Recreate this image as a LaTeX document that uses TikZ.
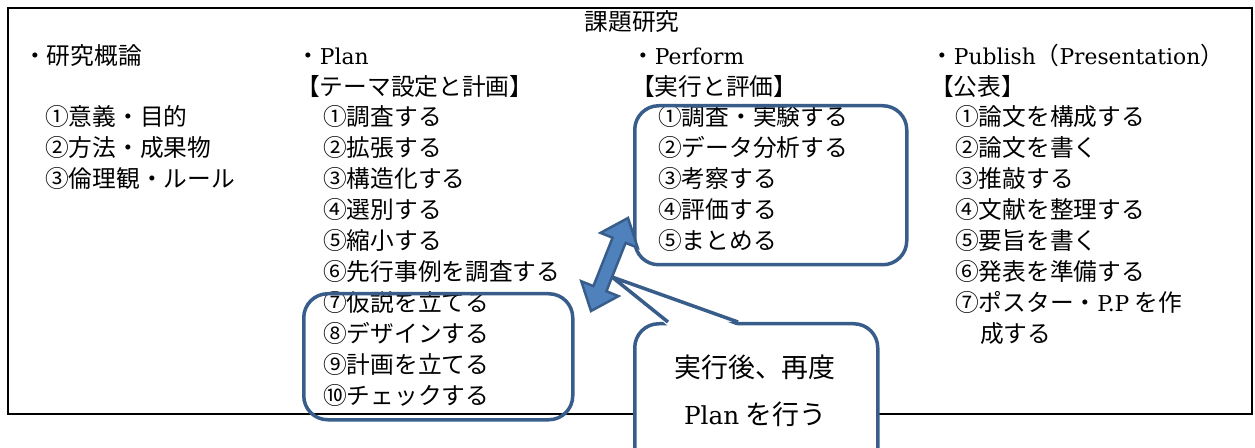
\documentclass[tikz,border=0pt]{standalone}
\usepackage{fontspec}
\newfontfamily\cjk{Noto Sans CJK JP}
\newfontfamily\lat{DejaVu Serif}[Scale=0.92]
\definecolor{edge}{RGB}{56,93,138}
\definecolor{arrowfill}{RGB}{79,129,189}
\begin{document}
\begin{tikzpicture}[x=1bp,y=-1bp,
  txt/.style={font=\cjk\fontsize{23.8}{31}\selectfont, inner sep=0pt, anchor=base west},
  calltxt/.style={font=\cjk\fontsize{27}{46}\selectfont, inner sep=0pt, anchor=base},
  blueframe/.style={draw=edge, line width=3.5bp, rounded corners=24bp},
  frame/.style={draw=black, line width=2bp}]
\useasboundingbox (0,0) rectangle (1255,448);
\clip (0,0) rectangle (1255,448);
% outer frame
\draw[frame] (8,8) rectangle (1252,414);
% title
\node[txt, anchor=base] (title) at (632,31) {課題研究};
% column 1
\node[txt] (c1h) at (23,65) {・研究概論};
\foreach \t [count=\i] in {①意義・目的, ②方法・成果物, ③倫理観・ルール}
  \node[txt] (c1i\i) at (45,{126+31*(\i-1)}) {\t};
% column 2
\node[txt] (c2h) at (296,65) {・{\lat Plan}};
\node[txt] (c2b) at (296,96) {【テーマ設定と計画】};
\foreach \t [count=\i] in {①調査する, ②拡張する, ③構造化する, ④選別する, ⑤縮小する, ⑥先行事例を調査する, ⑦仮説を立てる, ⑧デザインする, ⑨計画を立てる, ⑩チェックする}
  \node[txt] (c2i\i) at (323,{126+31*(\i-1)}) {\t};
% column 3
\node[txt] (c3h) at (631,65) {・{\lat Perform}};
\node[txt] (c3b) at (631,96) {【実行と評価】};
\foreach \t [count=\i] in {①調査・実験する, ②データ分析する, ③考察する, ④評価する, ⑤まとめる}
  \node[txt] (c3i\i) at (658,{126+31*(\i-1)}) {\t};
% column 4
\node[txt] (c4h) at (930,65) {・{\lat Publish}（{\lat Presentation}）};
\node[txt] (c4b) at (930,96) {【公表】};
\foreach \t [count=\i] in {①論文を構成する, ②論文を書く, ③推敲する, ④文献を整理する, ⑤要旨を書く, ⑥発表を準備する, {⑦ポスター・{\lat P.P} を作}}
  \node[txt] (c4i\i) at (955,{126+31*(\i-1)}) {\t};
\node[txt] (c4i7b) at (980,343) {成する};
% rounded boxes
\node[blueframe, anchor=north west, minimum width=269bp, minimum height=126bp, inner sep=0pt] (boxA) at (302,292) {};
\node[blueframe, anchor=north west, minimum width=272bp, minimum height=159bp, inner sep=0pt] (boxB) at (633,104) {};
% callout
\node[blueframe, fill=white, anchor=north west, minimum width=243bp, minimum height=170bp, inner sep=0pt] (callout) at (633,322) {};
\coordinate (tip) at (612,277);
\coordinate (pl) at (668,322);
\coordinate (pr) at (738,322);
\fill[white] ([yshift=-4bp]pl) -- (tip) -- ([yshift=-4bp]pr) -- cycle;
\draw[edge, line width=3.5bp, line join=miter] (pl) -- (tip) -- (pr);
\node[calltxt] (cl1) at (755,378) {実行後、再度};
\node[calltxt] (cl2) at (755,425) {{\lat Plan} を行う};
% double arrow
\draw[fill=arrowfill, draw=edge, line width=2.5bp, line join=miter]
  (591,311) -- (618.5,296.1) -- (606.4,291.3) -- (625.6,242.9) -- (637.7,247.7)
  -- (628,218) -- (600.5,232.9) -- (612.6,237.7) -- (593.4,286.1) -- (581.3,281.3) -- cycle;
\end{tikzpicture}
\end{document}
